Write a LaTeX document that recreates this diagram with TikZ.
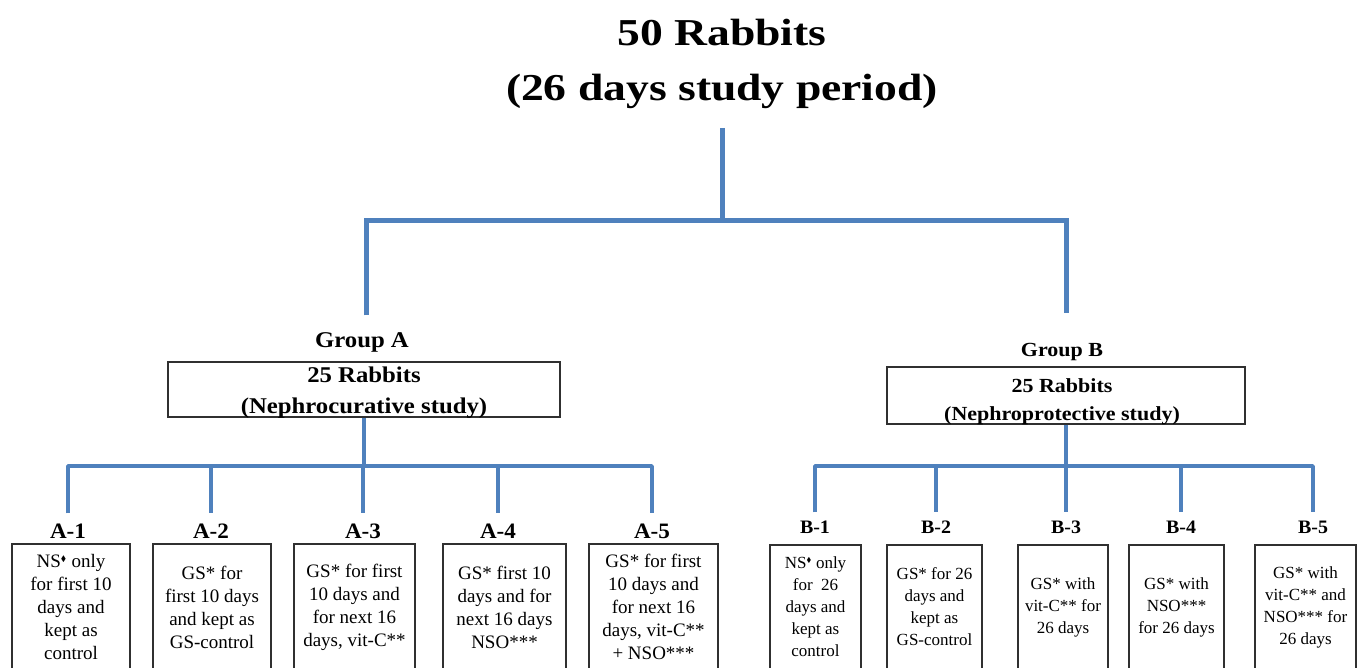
\documentclass[tikz,border=0pt]{standalone}
\usepackage{amssymb}
\usepackage{fontspec}
\setmainfont{Liberation Serif}
\newfontfamily\fTitle[FakeStretch=1.2]{Liberation Serif}
\newfontfamily\fGrp[FakeStretch=1.1]{Liberation Serif}
\newfontfamily\fLab[FakeStretch=1.05]{Liberation Serif}
\definecolor{busblue}{HTML}{4F81BD}
\definecolor{boxline}{HTML}{303030}
\newcommand{\nsd}{NS\textsuperscript{\scalebox{0.6}{$\blacklozenge$}}}
\begin{document}
\begin{tikzpicture}[x=1pt,y=-1pt,
  thickbus/.style={draw=busblue, line width=5pt},
  thinbus/.style={draw=busblue, line width=3.5pt, line join=round},
  grpbox/.style={draw=boxline, line width=1.6pt, rectangle, inner sep=0pt},
  grptext/.style={anchor=base, inner sep=0pt},
  abox/.style={draw=boxline, line width=1.6pt, rectangle, minimum height=126pt, inner sep=0pt, align=center, font=\fontsize{19}{23}\selectfont},
  bbox/.style={draw=boxline, line width=1.6pt, rectangle, minimum height=124pt, inner sep=0pt, align=center, font=\fontsize{17}{22}\selectfont},
  alab/.style={anchor=base, inner sep=0pt, font=\fLab\bfseries\fontsize{22}{26}\selectfont},
  blab/.style={anchor=base, inner sep=0pt, font=\fLab\bfseries\fontsize{19}{23}\selectfont}]
\useasboundingbox (0,0) rectangle (1359,667);
\clip (0,0) rectangle (1359,667);

% title
\node[anchor=north, inner sep=0pt, align=center, font=\fTitle\bfseries\fontsize{38}{55}\selectfont] (title) at (722,19) {50 Rabbits\\(26 days study period)};

% top bracket
\coordinate (tm) at (722,220);
\coordinate (tl) at (366,220);
\coordinate (tr) at (1066,220);

% group labels and boxes
\node[grptext, font=\fGrp\bfseries\fontsize{22.5}{27}\selectfont] (grpAlab) at (362,347) {Group A};
\node[grpbox, minimum width=392pt, minimum height=55pt] (gA) at (364,389.5) {};
\node[grptext, font=\fGrp\bfseries\fontsize{22.5}{27}\selectfont] (gAt1) at (364,382) {25 Rabbits};
\node[grptext, font=\fGrp\bfseries\fontsize{22.5}{27}\selectfont] (gAt2) at (364,413) {(Nephrocurative study)};

\node[grptext, font=\fGrp\bfseries\fontsize{20}{24}\selectfont] (grpBlab) at (1062,356) {Group B};
\node[grpbox, minimum width=358pt, minimum height=57pt] (gB) at (1066,395.5) {};
\node[grptext, font=\fGrp\bfseries\fontsize{20}{24}\selectfont] (gBt1) at (1062,392) {25 Rabbits};
\node[grptext, font=\fGrp\bfseries\fontsize{20}{24}\selectfont] (gBt2) at (1062,420) {(Nephroprotective study)};

\draw[thickbus, shorten <=19pt] (title.south) -- (tm);
\draw[thickbus, shorten <=16.5pt, shorten >=30pt] (tl |- grpAlab.north) -- (tl) -- (tr) -- (tr |- grpBlab.north);

% A column labels
\node[alab] (a1l) at (68,538) {A-1};
\node[alab] (a2l) at (211,538) {A-2};
\node[alab] (a3l) at (363,538) {A-3};
\node[alab] (a4l) at (498,538) {A-4};
\node[alab] (a5l) at (652,538) {A-5};

% A boxes
\node[abox, minimum width=118pt] (a1) at (71,607) {\nsd{} only\\for first 10\\days and\\kept as\\control};
\node[abox, minimum width=118pt] (a2) at (212,607) {GS* for\\first 10 days\\and kept as\\GS-control};
\node[abox, minimum width=121pt] (a3) at (354.5,607) {GS* for first\\10 days and\\for next 16\\days, vit-C**};
\node[abox, minimum width=123pt] (a4) at (504.5,607) {GS* first 10\\days and for\\next 16 days\\NSO***};
\node[abox, minimum width=129pt] (a5) at (653.5,607) {GS* for first\\10 days and\\for next 16\\days, vit-C**\\+ NSO***};

% B column labels
\node[blab] (b1l) at (815,533) {B-1};
\node[blab] (b2l) at (936,533) {B-2};
\node[blab] (b3l) at (1066,533) {B-3};
\node[blab] (b4l) at (1181,533) {B-4};
\node[blab] (b5l) at (1313,533) {B-5};

% B boxes
\node[bbox, minimum width=91pt] (b1) at (815.5,607) {\nsd{} only\\for~~26\\days and\\kept as\\control};
\node[bbox, minimum width=95pt] (b2) at (934.5,607) {GS* for 26\\days and\\kept as\\GS-control};
\node[bbox, minimum width=90pt] (b3) at (1063,607) {GS* with\\vit-C** for\\26 days};
\node[bbox, minimum width=95pt] (b4) at (1176.5,607) {GS* with\\NSO***\\for 26 days};
\node[bbox, minimum width=101pt] (b5) at (1305.5,607) {GS* with\\vit-C** and\\NSO*** for\\26 days};

% lower A tree
\coordinate (abus) at (364,466);
\draw[thinbus] (gA.south) -- (abus);
\draw[thinbus, shorten <=10pt, shorten >=10pt] (a1l.north) -- (a1l.north |- abus) -- (a5l.north |- abus) -- (a5l.north);
\foreach \n in {a2l,a3l,a4l} \draw[thinbus, shorten >=10pt] (\n.north |- abus) -- (\n.north);

% lower B tree
\coordinate (bbus) at (1066,466);
\draw[thinbus] (gB.south) -- (bbus);
\draw[thinbus, shorten <=8pt, shorten >=8pt] (b1l.north) -- (b1l.north |- bbus) -- (b5l.north |- bbus) -- (b5l.north);
\foreach \n in {b2l,b3l,b4l} \draw[thinbus, shorten >=8pt] (\n.north |- bbus) -- (\n.north);
\end{tikzpicture}
\end{document}
